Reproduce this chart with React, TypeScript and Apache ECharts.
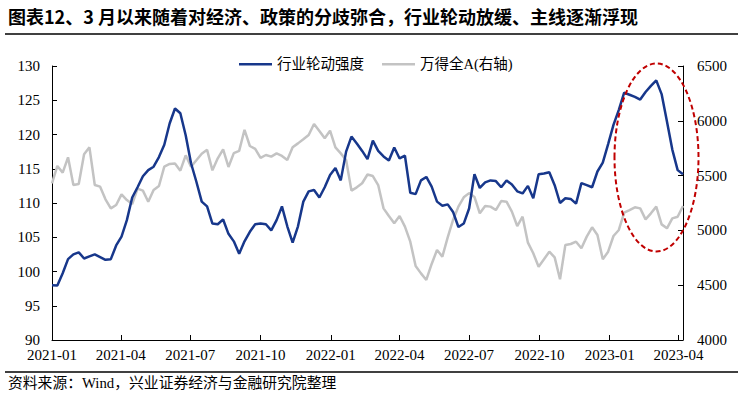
import React, { useEffect, useRef } from "react";
import * as echarts from "echarts";

const TITLE = "图表12、3 月以来随着对经济、政策的分歧弥合，行业轮动放缓、主线逐渐浮现";
const SOURCE = "资料来源：Wind，兴业证券经济与金融研究院整理";
const SERIES_NAMES = ["行业轮动强度", "万得全A(右轴)"];

// weekly observations (Fridays), starting 2021-01-01
const START_DATE = [2021, 0, 1];
const WEEK_DAYS = 7;

const ROTATION = [
  98.0, 97.95, 99.75, 101.8, 102.5, 102.8, 101.9, 102.2, 102.5, 102.1,
  101.7, 101.8, 103.8, 105.1, 107.5, 110.8, 112.3, 113.9, 114.8, 115.3,
  116.7, 118.5, 121.6, 123.8, 123.1, 119.9, 115.8, 113.1, 110.2, 109.5,
  107.0, 106.9, 107.6, 105.5, 104.4, 102.6, 104.4, 105.8, 106.9, 107.0,
  106.9, 106.0, 107.5, 109.5, 106.6, 104.2, 106.6, 110.2, 111.7, 111.9,
  110.8, 112.3, 114.1, 115.1, 113.3, 117.5, 119.7, 118.7, 117.6, 116.4,
  119.1, 117.6, 116.8, 116.2, 118.1, 116.5, 116.9, 111.5, 111.3, 113.3,
  113.8, 112.4, 110.2, 109.6, 109.8, 108.7, 106.5, 107.0, 109.2, 114.2,
  112.2, 113.0, 113.3, 113.2, 112.3, 113.3, 112.7, 111.7, 111.4, 112.5,
  110.7, 114.2, 114.3, 114.5, 112.6, 110.0, 110.7, 110.6, 109.9, 112.9,
  112.6, 112.3, 114.6, 115.9, 118.6, 121.4, 123.6, 126.1, 125.8, 125.5,
  125.1, 126.2, 127.1, 127.9, 125.9, 121.9, 117.8, 114.8, 114.2,
];

const WIND_A = [
  5429, 5588, 5527, 5667, 5414, 5423, 5694, 5758, 5414, 5399,
  5284, 5201, 5232, 5329, 5277, 5241, 5381, 5363, 5262, 5369,
  5405, 5582, 5606, 5610, 5545, 5685, 5582, 5640, 5700, 5735,
  5548, 5658, 5740, 5579, 5705, 5726, 5918, 5770, 5743, 5662,
  5688, 5673, 5703, 5679, 5642, 5758, 5794, 5831, 5870, 5971,
  5907, 5840, 5910, 5758, 5703, 5642, 5363, 5393, 5430, 5510,
  5496, 5414, 5201, 5131, 5065, 5131, 5034, 4897, 4675, 4608,
  4548, 4694, 4821, 4761, 4937, 5095, 5217, 5302, 5340, 5305,
  5156, 5223, 5217, 5186, 5268, 5262, 5171, 5040, 5125, 4888,
  4791, 4669, 4736, 4806, 4754, 4554, 4867, 4876, 4897, 4837,
  4943, 5028, 4958, 4736, 4806, 4949, 5004, 5162, 5186, 5211,
  5201, 5101, 5156, 5217, 5055, 5019, 5110, 5125, 5223,
];

const X_TICK_LABELS = [
  "2021-01", "2021-04", "2021-07", "2021-10", "2022-01",
  "2022-04", "2022-07", "2022-10", "2023-01", "2023-04",
];
const LEFT_AXIS = { min: 90, max: 130, interval: 5 };
const RIGHT_AXIS = { min: 4000, max: 6500, interval: 500 };

const BLUE = "#17378B";
const GRAY = "#C3C3C3";
const FONT = '"Liberation Serif", "Noto Sans CJK SC", serif';

const DAY = 86400000;
const start = Date.UTC(START_DATE[0], START_DATE[1], START_DATE[2]);
const dateAt = (i: number) => start + i * WEEK_DAYS * DAY;
const tickValues = X_TICK_LABELS.map((s) => {
  const [y, m] = s.split("-").map(Number);
  return Date.UTC(y, m - 1, 1);
});
const fmt = (v: number) => {
  const d = new Date(v);
  const m = d.getUTCMonth() + 1;
  return `${d.getUTCFullYear()}-${m < 10 ? "0" + m : m}`;
};

export default function App() {
  const ref = useRef<HTMLDivElement>(null);
  useEffect(() => {
    if (!ref.current) return;
    const chart = echarts.init(ref.current, undefined, { renderer: "svg" });
    const axisCommon = {
      axisLine: { show: true, lineStyle: { color: "#000", width: 1 } },
      axisTick: { show: true, inside: true, length: 5, lineStyle: { color: "#000" } },
      splitLine: { show: false },
    };
    chart.setOption({
      animation: false,
      textStyle: { fontFamily: FONT },
      grid: { left: 52, right: 61, top: 66, bottom: 57 },
      legend: {
        left: 234,
        top: 52,
        icon: "rect",
        itemWidth: 33,
        itemHeight: 2.5,
        itemGap: 18,
        data: [SERIES_NAMES[0], SERIES_NAMES[1]],
        textStyle: { fontSize: 14.5, color: "#000", fontFamily: FONT },
      },
      xAxis: {
        type: "value",
        min: dateAt(0),
        max: dateAt(ROTATION.length - 1),
        ...axisCommon,
        axisTick: { ...axisCommon.axisTick, customValues: tickValues },
        axisLabel: {
          customValues: tickValues,
          formatter: (v: number) => fmt(v),
          fontSize: 15,
          color: "#000",
          margin: 7,
          fontFamily: FONT,
        },
      },
      yAxis: [
        {
          type: "value",
          ...LEFT_AXIS,
          ...axisCommon,
          axisLabel: { fontSize: 15, color: "#000", margin: 12, fontFamily: FONT },
        },
        {
          type: "value",
          position: "right",
          ...RIGHT_AXIS,
          ...axisCommon,
          axisLabel: {
            fontSize: 15,
            color: "#000",
            margin: 14,
            fontFamily: FONT,
            formatter: (v: number) => String(v),
          },
        },
      ],
      series: [
        {
          name: SERIES_NAMES[1],
          type: "line",
          yAxisIndex: 1,
          symbol: "none",
          color: GRAY,
          lineStyle: { color: GRAY, width: 2.5 },
          data: WIND_A.map((v, i) => [dateAt(i), v]),
        },
        {
          name: SERIES_NAMES[0],
          type: "line",
          yAxisIndex: 0,
          symbol: "none",
          color: BLUE,
          lineStyle: { color: BLUE, width: 2.5 },
          data: ROTATION.map((v, i) => [dateAt(i), v]),
        },
      ],
      graphic: [
        {
          type: "text",
          left: 8,
          top: 7,
          style: {
            text: TITLE,
            font: 'bold 18px "Noto Sans CJK SC", sans-serif',
            fill: "#000",
          },
        },
        {
          type: "line",
          shape: { x1: 5, y1: 34, x2: 738, y2: 34 },
          style: { stroke: "#000", lineWidth: 1.5 },
        },
        {
          type: "line",
          shape: { x1: 5, y1: 372, x2: 738, y2: 372 },
          style: { stroke: "#000", lineWidth: 1.5 },
        },
        {
          type: "text",
          left: 8,
          top: 376,
          style: {
            text: SOURCE,
            font: '14.8px "Liberation Serif", "Noto Sans CJK SC", serif',
            fill: "#000",
          },
        },
        {
          type: "ellipse",
          z: 100,
          shape: { cx: 656.5, cy: 157.5, rx: 42, ry: 94 },
          style: { fill: "none", stroke: "#C00000", lineWidth: 2, lineDash: [5, 3] },
        },
      ],
    });
    return () => chart.dispose();
  }, []);
  return (
    <div
      ref={ref}
      style={{ position: "fixed", left: 0, top: 0, width: 744, height: 397, background: "#fff" }}
    />
  );
}
